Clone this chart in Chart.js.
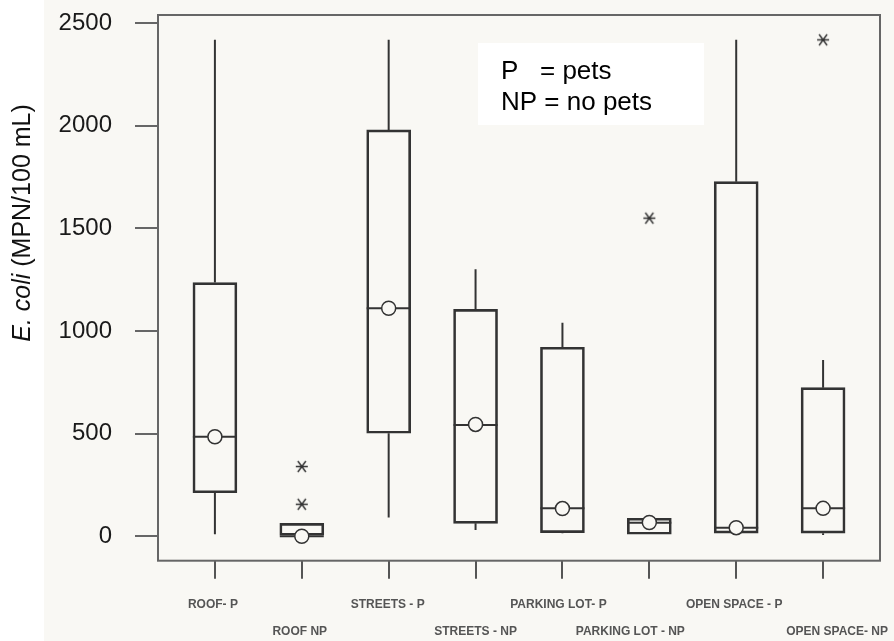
<!DOCTYPE html>
<html>
<head>
<meta charset="utf-8">
<title>E. coli box plot</title>
<script src="https://cdn.jsdelivr.net/npm/chart.js@4/dist/chart.umd.min.js"></script>
<style>
html, body { margin: 0; padding: 0; background: #f9f8f4; }
#wrap { width: 894px; height: 641px; }
</style>
</head>
<body>
<div id="wrap"><canvas id="box-chart"></canvas></div>
<script>
// ---- data ----
var labels = ['ROOF- P', 'ROOF NP', 'STREETS - P', 'STREETS - NP', 'PARKING LOT- P', 'PARKING LOT - NP', 'OPEN SPACE - P', 'OPEN SPACE- NP'];
var whiskerLow  = [10,   0,   91,   31,   15,   10,  6,    6];
var q1          = [212,  0,   502,  63,   18,   10,  15,   15];
var median      = [485,  0,   1111, 542,  136,  66,  42,   136];
var q3          = [1236, 63,  1980, 1106, 921,  88,  1728, 724];
var whiskerHigh = [2419, 63,  2419, 1301, 1041, 88,  2419, 859];
var means       = [485,  0,   1111, 545,  135,  67,  42,   136];
var outliers    = [[], [156, 340], [], [], [], [1550], [], [2419]];
var yTicks = [0, 500, 1000, 1500, 2000, 2500];

// label nudges (px) for the staggered category names
var labelNudge = [-2, -2, -1, 0, -4, -19, -2, 14];

var ink = '#333';
var bg = '#f9f8f4';
var fontFamily = "'Liberation Sans', Arial, sans-serif";

/* ======= build datasets from the arrays ======= */
var boxData = labels.map(function (l, i) { return {x: i, y: [q1[i], q3[i]]}; });
var medianData = labels.map(function (l, i) { return {x: i, y: median[i]}; });
var meanData = labels.map(function (l, i) { return {x: i, y: means[i]}; });

var whiskerData = [];
labels.forEach(function (l, i) {
    whiskerData.push({x: i, y: whiskerHigh[i]}, {x: i, y: q3[i]}, {x: i, y: null});
    whiskerData.push({x: i, y: q1[i]}, {x: i, y: whiskerLow[i]}, {x: i, y: null});
});

var outlierData = [];
outliers.forEach(function (list, i) {
    list.forEach(function (v) { outlierData.push({x: i, y: v}); });
});

// asterisk marker for outliers
function asterisk() {
    var c = document.createElement('canvas');
    c.width = 14; c.height = 15;
    var g = c.getContext('2d');
    g.strokeStyle = ink;
    g.lineWidth = 1.4;
    g.beginPath();
    g.moveTo(1, 7.5); g.lineTo(13, 7.5);
    g.moveTo(3, 2); g.lineTo(11, 13);
    g.moveTo(11, 2); g.lineTo(3, 13);
    g.stroke();
    return c;
}

function noPadding(s) {
    s.paddingTop = 0; s.paddingBottom = 0;
    s.paddingLeft = 0; s.paddingRight = 0;
}

/* ======= extra drawing: frame, labels, legend box, axis title ======= */
var decorations = {
    id: 'decorations',
    beforeDraw: function (chart) {
        var ctx = chart.ctx;
        ctx.save();
        ctx.fillStyle = bg;
        ctx.fillRect(0, 0, chart.width, chart.height);
        ctx.fillStyle = '#ffffff';
        ctx.fillRect(0, 0, 44, chart.height);
        ctx.restore();
    },
    afterDraw: function (chart) {
        var ctx = chart.ctx;
        var area = chart.chartArea;
        var xs = chart.scales.x;
        ctx.save();

        // plot frame
        ctx.strokeStyle = '#666';
        ctx.lineWidth = 2;
        ctx.strokeRect(area.left, area.top, area.right - area.left, area.bottom - area.top);

        // staggered category labels
        ctx.fillStyle = '#555';
        ctx.font = 'bold 12px ' + fontFamily;
        ctx.textAlign = 'center';
        ctx.textBaseline = 'middle';
        labels.forEach(function (l, i) {
            var y = area.bottom + (i % 2 === 0 ? 44 : 71);
            ctx.fillText(l, xs.getPixelForValue(i) + labelNudge[i], y);
        });

        // key box
        ctx.fillStyle = '#ffffff';
        ctx.fillRect(478, 43, 226, 82);
        ctx.fillStyle = '#000';
        ctx.font = '26px ' + fontFamily;
        ctx.textAlign = 'left';
        ctx.textBaseline = 'alphabetic';
        ctx.fillText('P', 501, 79);
        ctx.fillText('= pets', 540, 79);
        ctx.fillText('NP = no pets', 501, 110);

        // y axis title, italic species name
        ctx.translate(23, 223);
        ctx.rotate(-Math.PI / 2);
        ctx.textBaseline = 'middle';
        var part1 = 'E. coli';
        var part2 = ' (MPN/100 mL)';
        ctx.font = 'italic 25px ' + fontFamily;
        var w1 = ctx.measureText(part1).width;
        ctx.font = '25px ' + fontFamily;
        var w2 = ctx.measureText(part2).width;
        var start = -(w1 + w2) / 2;
        ctx.fillStyle = '#111';
        ctx.font = 'italic 25px ' + fontFamily;
        ctx.fillText(part1, start, 0);
        ctx.font = '25px ' + fontFamily;
        ctx.fillText(part2, start + w1, 0);

        ctx.restore();
    }
};

var ctx = document.getElementById('box-chart');

var chart = new Chart(ctx, {
    type: 'bar',
    data: {
        datasets: [
            {
                type: 'scatter',
                label: 'mean',
                data: meanData,
                order: 0,
                pointStyle: 'circle',
                pointRadius: 7,
                pointBorderWidth: 1.5,
                pointBorderColor: ink,
                pointBackgroundColor: bg
            },
            {
                type: 'scatter',
                label: 'outliers',
                data: outlierData,
                order: 1,
                pointStyle: asterisk(),
                pointRadius: 7
            },
            {
                type: 'scatter',
                label: 'median',
                data: medianData,
                order: 2,
                pointStyle: 'line',
                pointRadius: 22,
                pointBorderWidth: 2,
                pointBorderColor: ink
            },
            {
                type: 'line',
                label: 'whiskers',
                data: whiskerData,
                order: 3,
                spanGaps: false,
                borderColor: ink,
                borderWidth: 2,
                pointRadius: 0,
                fill: false
            },
            {
                type: 'bar',
                label: 'box',
                data: boxData,
                order: 4,
                barThickness: 44,
                borderSkipped: false,
                borderWidth: 2,
                borderColor: ink,
                backgroundColor: 'rgba(0,0,0,0)'
            }
        ]
    },
    options: {
        responsive: true,
        maintainAspectRatio: false,
        animation: false,
        events: [],
        layout: { autoPadding: false, padding: { top: 15, right: 14, left: 0, bottom: 0 } },
        plugins: {
            legend: { display: false },
            tooltip: { enabled: false }
        },
        scales: {
            x: {
                type: 'linear',
                min: -0.655,
                max: 7.655,
                offset: false,
                afterBuildTicks: function (s) {
                    s.ticks = labels.map(function (l, i) { return {value: i}; });
                },
                afterFit: function (s) { s.height = 80.3; noPadding(s); },
                ticks: { display: false },
                grid: {
                    offset: false,
                    drawOnChartArea: false,
                    drawTicks: true,
                    tickLength: 18,
                    color: '#555',
                    lineWidth: 2
                },
                border: { display: false }
            },
            y: {
                type: 'linear',
                min: -119,
                max: 2540,
                afterBuildTicks: function (s) {
                    s.ticks = yTicks.map(function (v) { return {value: v}; });
                },
                afterFit: function (s) { s.width = 158; noPadding(s); },
                ticks: {
                    padding: 23,
                    color: '#1a1a1a',
                    font: { family: fontFamily, size: 24 },
                    callback: function (v) { return String(v); }
                },
                grid: {
                    drawOnChartArea: false,
                    drawTicks: true,
                    tickLength: 23,
                    color: '#666',
                    lineWidth: 2
                },
                border: { display: false }
            }
        }
    },
    plugins: [decorations]
});
</script>
</body>
</html>
